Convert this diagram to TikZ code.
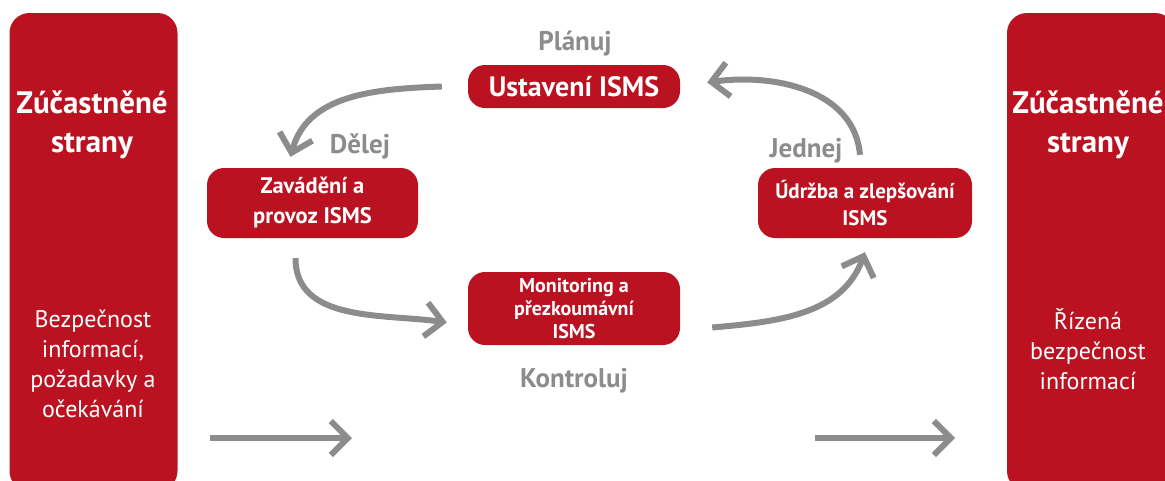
\documentclass[tikz,border=0pt]{standalone}
\usepackage{fontspec}
\setmainfont{PT Sans}
\usetikzlibrary{arrows.meta}
\definecolor{isred}{HTML}{BB1221}
\definecolor{isgray}{HTML}{8C8C8C}

\begin{document}
\begin{tikzpicture}[x=1pt,y=-1pt,
    stake/.style={fill=isred, rounded corners=20pt, minimum width=168pt, minimum height=478pt, inner sep=0pt},
    phase/.style={fill=isred, rounded corners=17pt, text=white, align=center, inner sep=0pt},
    stage/.style={text=isgray, font=\fontsize{27}{30}\selectfont\bfseries},
    cyc/.style={draw=isgray, line width=6pt, -{Straight Barb[length=17pt,width=34pt]}}]
    \clip (0,0) rectangle (1165,480);
    % interested parties on both sides
    \node[stake] (stakeL) at (93.5,252) {};
    \node[stake] (stakeR) at (1091,252) {};
    \foreach \s/\x in {L/92, R/1088}
        \node[text=white, align=center, font=\fontsize{31}{39}\selectfont\bfseries] (title\s) at (\x,125) {Zúčastněné\\strany};
    \node[text=white, align=center, font=\fontsize{24}{30}\selectfont] (descL) at (93,364)
        {Bezpečnost\\informací,\\požadavky a\\očekávání};
    \node[text=white, align=center, font=\fontsize{24}{30}\selectfont] (descR) at (1088,349)
        {Řízená\\bezpečnost\\informací};
    % PDCA phases
    \node[phase, minimum width=212pt, minimum height=43pt, font=\fontsize{28}{30}\selectfont\bfseries] (ust) at (574,86.5) {Ustavení ISMS};
    \node[phase, minimum width=211pt, minimum height=70pt, font=\fontsize{22.5}{30}\selectfont\bfseries] (zav) at (312.5,203) {Zavádění a\\provoz ISMS};
    \node[phase, minimum width=212pt, minimum height=73pt, font=\fontsize{20}{23}\selectfont\bfseries] (mon) at (574,308.5) {Monitoring a\\přezkoumávní\\ISMS};
    \node[phase, minimum width=214pt, minimum height=70pt, font=\fontsize{21}{27}\selectfont\bfseries] (udr) at (865,203) {Údržba a zlepšování\\ISMS};
    \node[stage] (plan) at (575,44) {Plánuj};
    \node[stage] (dele) at (360,146) {Dělej};
    \node[stage] (kont) at (574,381) {Kontroluj};
    \node[stage] (jedn) at (806,151) {Jednej};
    % cycle
    \draw[cyc] ([xshift=-26pt]ust.west) to[out=182,in=75] ([shift={(-22pt,11pt)}]zav.north);
    \draw[cyc] ([shift={(-17pt,-20pt)}]zav.south) to[out=270,in=172] ([shift={(-21pt,-14pt)}]mon.west);
    \draw[cyc] ([shift={(32pt,-19pt)}]mon.east) to[out=5,in=250] ([yshift=-14pt]udr.south);
    \draw[cyc] ([shift={(-5pt,13pt)}]udr.north) to[out=95,in=8] ([shift={(27pt,4pt)}]ust.east);
    % input and output
    \coordinate (inA) at (210,438);
    \coordinate (inB) at (352,438);
    \coordinate (outA) at (815,438);
    \coordinate (outB) at (955,438);
    \draw[cyc] (inA) -- (inB);
    \draw[cyc] (outA) -- (outB);
\end{tikzpicture}
\end{document}
